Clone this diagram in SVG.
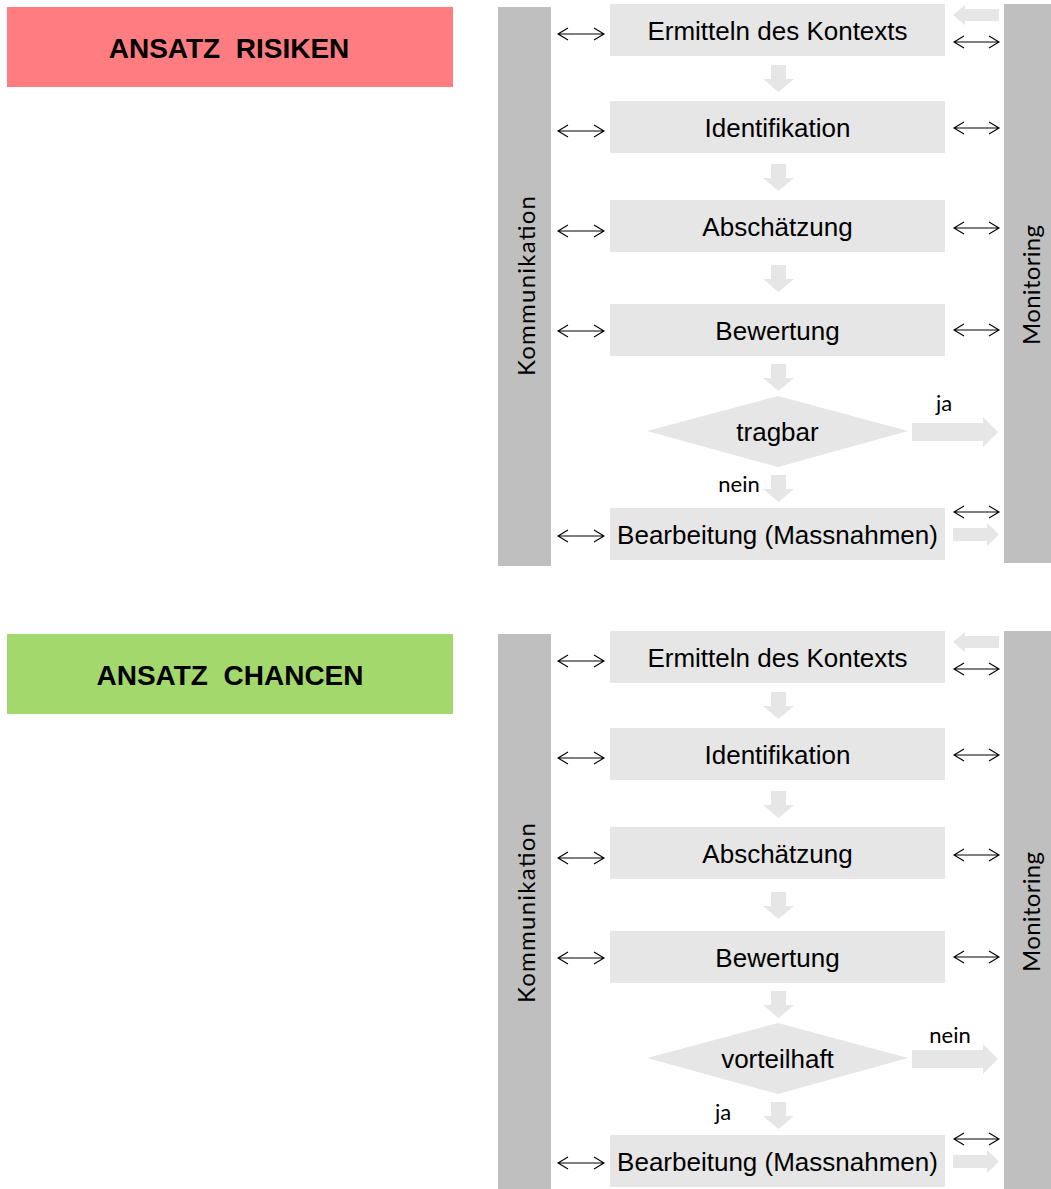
<svg xmlns="http://www.w3.org/2000/svg" width="1051" height="1189" viewBox="0 0 1051 1189">
<defs>
<style>
.bar{fill:#BFBFBF}
.box{fill:#E6E6E6}
.blk{fill:#E6E6E6}
.dbl{fill:none;stroke:#000;stroke-width:1.1}
.t{font-family:"Liberation Sans",Arial,sans-serif;font-size:26px;fill:#000;text-anchor:middle}
.h{font-family:"Liberation Sans",Arial,sans-serif;font-size:28px;font-weight:bold;fill:#000;text-anchor:middle}
.c{font-family:Lato,"Open Sans",sans-serif;font-size:24px;fill:#000;text-anchor:middle}
.l{font-family:Lato,"Open Sans",sans-serif;font-size:22px;fill:#000;text-anchor:middle}
</style>
<path id="down" d="M771,0 H786 V14 H794 L778.5,27 L763,14 H771 Z"/>
<path id="dblL" d="M558,0 H604 M568,-6 L558,0 L568,6 M594,-6 L604,0 L594,6"/>
<path id="dblR" d="M954,0 H999 M964,-6 L954,0 L964,6 M989,-6 L999,0 L989,6"/>
</defs>

<!-- ===== RISIKEN ===== -->
<g id="header-risiken">
<rect x="7" y="7" width="446" height="80" fill="#FF7C80"/>
<text class="h" x="229" y="58" xml:space="preserve">ANSATZ  RISIKEN</text>
</g>
<g id="kommunikation-1">
<rect class="bar" x="498" y="7" width="53" height="559"/>
<text class="c" transform="translate(535,286) rotate(-90)" textLength="180">Kommunikation</text>
</g>
<g id="monitoring-1">
<rect class="bar" x="1004" y="4" width="47" height="559"/>
<text class="c" transform="translate(1040,285) rotate(-90)" textLength="120">Monitoring</text>
</g>
<g id="r-kontext"><rect class="box" x="610" y="4" width="335" height="52"/><text class="t" x="777.5" y="40">Ermitteln des Kontexts</text></g>
<g id="r-ident"><rect class="box" x="610" y="101" width="335" height="52"/><text class="t" x="777.5" y="137">Identifikation</text></g>
<g id="r-absch"><rect class="box" x="610" y="200" width="335" height="52"/><text class="t" x="777.5" y="236">Abschätzung</text></g>
<g id="r-bew"><rect class="box" x="610" y="304" width="335" height="52"/><text class="t" x="777.5" y="340">Bewertung</text></g>
<g id="r-tragbar"><polygon class="box" points="647,431 778,396 908,431 778,467"/><text class="t" x="777.5" y="441">tragbar</text></g>
<g id="r-bearb"><rect class="box" x="610" y="508" width="335" height="52"/><text class="t" x="777.5" y="544">Bearbeitung (Massnahmen)</text></g>

<g id="connectors-1">
<use href="#down" class="blk" y="65"/>
<use href="#down" class="blk" y="164"/>
<use href="#down" class="blk" y="265"/>
<use href="#down" class="blk" y="364"/>
<use href="#down" class="blk" y="475"/>
<path class="blk" d="M912,423 H983 V417 L998,432 L983,447 V441 H912 Z"/>
<path class="blk" d="M953,15 L965,5 V9 H999 V21 H965 V25 Z"/>
<path class="blk" d="M953,528 H987 V523 L999,534.5 L987,546 V541 H953 Z"/>
<use href="#dblL" class="dbl" y="34"/>
<use href="#dblL" class="dbl" y="131"/>
<use href="#dblL" class="dbl" y="231"/>
<use href="#dblL" class="dbl" y="331"/>
<use href="#dblL" class="dbl" y="536"/>
<use href="#dblR" class="dbl" y="42"/>
<use href="#dblR" class="dbl" y="128"/>
<use href="#dblR" class="dbl" y="228"/>
<use href="#dblR" class="dbl" y="330"/>
<use href="#dblR" class="dbl" y="512"/>
<text class="l" x="944" y="411">ja</text>
<text class="l" x="739" y="492">nein</text>
</g>

<!-- ===== CHANCEN ===== -->
<g id="header-chancen">
<rect x="7" y="634" width="446" height="80" fill="#A3D86C"/>
<text class="h" x="230" y="685" xml:space="preserve">ANSATZ  CHANCEN</text>
</g>
<g id="kommunikation-2">
<rect class="bar" x="498" y="634" width="53" height="555"/>
<text class="c" transform="translate(535,913) rotate(-90)" textLength="180">Kommunikation</text>
</g>
<g id="monitoring-2">
<rect class="bar" x="1004" y="631" width="47" height="558"/>
<text class="c" transform="translate(1040,912) rotate(-90)" textLength="120">Monitoring</text>
</g>
<g id="c-kontext"><rect class="box" x="610" y="631" width="335" height="52"/><text class="t" x="777.5" y="667">Ermitteln des Kontexts</text></g>
<g id="c-ident"><rect class="box" x="610" y="728" width="335" height="52"/><text class="t" x="777.5" y="764">Identifikation</text></g>
<g id="c-absch"><rect class="box" x="610" y="827" width="335" height="52"/><text class="t" x="777.5" y="863">Abschätzung</text></g>
<g id="c-bew"><rect class="box" x="610" y="931" width="335" height="52"/><text class="t" x="777.5" y="967">Bewertung</text></g>
<g id="c-vorteilhaft"><polygon class="box" points="647,1058 778,1023 908,1058 778,1094"/><text class="t" x="777.5" y="1068">vorteilhaft</text></g>
<g id="c-bearb"><rect class="box" x="610" y="1135" width="335" height="52"/><text class="t" x="777.5" y="1171">Bearbeitung (Massnahmen)</text></g>

<g id="connectors-2">
<use href="#down" class="blk" y="692"/>
<use href="#down" class="blk" y="791"/>
<use href="#down" class="blk" y="892"/>
<use href="#down" class="blk" y="991"/>
<use href="#down" class="blk" y="1102"/>
<path class="blk" d="M912,1050 H983 V1044 L998,1059 L983,1074 V1068 H912 Z"/>
<path class="blk" d="M953,642 L965,632 V636 H999 V648 H965 V652 Z"/>
<path class="blk" d="M953,1155 H987 V1150 L999,1161.5 L987,1173 V1168 H953 Z"/>
<use href="#dblL" class="dbl" y="661"/>
<use href="#dblL" class="dbl" y="758"/>
<use href="#dblL" class="dbl" y="858"/>
<use href="#dblL" class="dbl" y="958"/>
<use href="#dblL" class="dbl" y="1163"/>
<use href="#dblR" class="dbl" y="669"/>
<use href="#dblR" class="dbl" y="755"/>
<use href="#dblR" class="dbl" y="855"/>
<use href="#dblR" class="dbl" y="957"/>
<use href="#dblR" class="dbl" y="1139"/>
<text class="l" x="950" y="1043">nein</text>
<text class="l" x="723" y="1120">ja</text>
</g>
</svg>
